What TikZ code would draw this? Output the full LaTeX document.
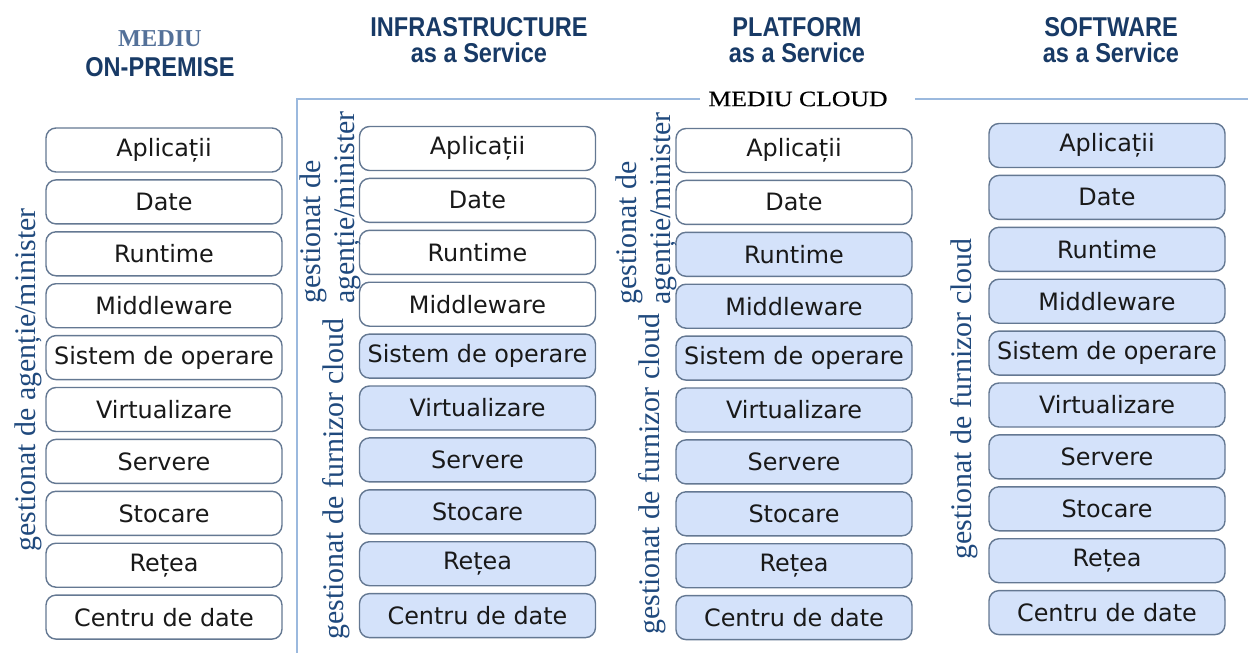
\documentclass[tikz,border=0pt]{standalone}
\usepackage{fontspec}
\setmainfont{Liberation Serif}
\setsansfont{DejaVu Sans}
\newfontfamily\headfont[FakeStretch=0.865]{Liberation Sans}
\newfontfamily\cloudfont[FakeStretch=1.17,FakeBold=0.5]{Liberation Serif}
\usetikzlibrary{positioning}

\definecolor{headblue}{RGB}{24,58,102}
\definecolor{mediublue}{RGB}{84,113,153}
\definecolor{labelblue}{RGB}{31,73,125}
\definecolor{layerdraw}{RGB}{100,120,146}
\definecolor{layerfill}{RGB}{212,226,250}
\definecolor{framecol}{RGB}{155,185,222}

\tikzset{
  layer/.style={rectangle, rounded corners=2mm, draw=layerdraw, line width=0.8pt, minimum width=47.2mm, minimum height=8.8mm, inner sep=0pt, outer sep=0pt, text=black!90, font=\sffamily\fontsize{13.6}{16}\selectfont},
  selfrun/.style={layer, fill=white},
  vendor/.style={layer, fill=layerfill},
  managedby/.style={rotate=90, anchor=west, inner sep=0pt, align=left, text=labelblue, font=\fontsize{17}{19.5}\selectfont},
  header/.style={inner sep=0pt, align=center, text=headblue, font=\headfont\bfseries\fontsize{15.5}{14.7}\selectfont}
}

\begin{document}
\begin{tikzpicture}[x=0.2mm, y=-0.2mm, node distance=1.58mm]
\useasboundingbox (0,0) rectangle (1248,653);

% titluri
\node[header, font=\headfont\bfseries\fontsize{15.5}{17}\selectfont] (prem-head) at (160,53.7) {{\rmfamily\fontsize{13.8}{17}\selectfont\color{mediublue}MEDIU}\\ON-PREMISE};
\node[header] (iaas-head) at (479,40.5) {INFRASTRUCTURE\\as a Service};
\node[header] (paas-head) at (797,40.5) {PLATFORM\\as a Service};
\node[header] (saas-head) at (1111,40.5) {SOFTWARE\\as a Service};

% mediu cloud
\node[inner sep=0pt, font=\cloudfont\fontsize{12.5}{14}\selectfont] (cloud-head) at (798,99) {MEDIU CLOUD};
\coordinate (frame-low) at (297,653);
\coordinate (frame-end) at (1248,99);
\draw[framecol, line width=1.1pt] (frame-low) |- ([xshift=-1.6mm]cloud-head.west);
\draw[framecol, line width=1.1pt] ([xshift=5.4mm]cloud-head.east) -- (frame-end);

% on-premise
\node[selfrun] (prem-app) at (164,150) {Aplicații};
\node[selfrun, below=of prem-app] (prem-date) {Date};
\node[selfrun, below=of prem-date] (prem-run) {Runtime};
\node[selfrun, below=of prem-run] (prem-mid) {Middleware};
\node[selfrun, below=of prem-mid] (prem-os) {Sistem de operare};
\node[selfrun, below=of prem-os] (prem-virt) {Virtualizare};
\node[selfrun, below=of prem-virt] (prem-srv) {Servere};
\node[selfrun, below=of prem-srv] (prem-sto) {Stocare};
\node[selfrun, below=of prem-sto] (prem-net) {Rețea};
\node[selfrun, below=of prem-net] (prem-dc) {Centru de date};
\node[managedby] (prem-own) at (28,552) {gestionat de agenție/minister};

% iaas
\node[selfrun] (iaas-app) at (477.5,148.5) {Aplicații};
\node[selfrun, below=of iaas-app] (iaas-date) {Date};
\node[selfrun, below=of iaas-date] (iaas-run) {Runtime};
\node[selfrun, below=of iaas-run] (iaas-mid) {Middleware};
\node[vendor, below=of iaas-mid] (iaas-os) {Sistem de operare};
\node[vendor, below=of iaas-os] (iaas-virt) {Virtualizare};
\node[vendor, below=of iaas-virt] (iaas-srv) {Servere};
\node[vendor, below=of iaas-srv] (iaas-sto) {Stocare};
\node[vendor, below=of iaas-sto] (iaas-net) {Rețea};
\node[vendor, below=of iaas-net] (iaas-dc) {Centru de date};
\node[managedby] (iaas-own) at (330.5,304) {gestionat de\\agenție/minister};
\node[managedby] (iaas-prov) at (336.5,640) {gestionat de furnizor cloud};

% paas
\node[selfrun] (paas-app) at (794,150.5) {Aplicații};
\node[selfrun, below=of paas-app] (paas-date) {Date};
\node[vendor, below=of paas-date] (paas-run) {Runtime};
\node[vendor, below=of paas-run] (paas-mid) {Middleware};
\node[vendor, below=of paas-mid] (paas-os) {Sistem de operare};
\node[vendor, below=of paas-os] (paas-virt) {Virtualizare};
\node[vendor, below=of paas-virt] (paas-srv) {Servere};
\node[vendor, below=of paas-srv] (paas-sto) {Stocare};
\node[vendor, below=of paas-sto] (paas-net) {Rețea};
\node[vendor, below=of paas-net] (paas-dc) {Centru de date};
\node[managedby] (paas-own) at (646,305) {gestionat de\\agenție/minister};
\node[managedby] (paas-prov) at (652,635) {gestionat de furnizor cloud};

% saas
\node[vendor] (saas-app) at (1107,145.5) {Aplicații};
\node[vendor, below=of saas-app] (saas-date) {Date};
\node[vendor, below=of saas-date] (saas-run) {Runtime};
\node[vendor, below=of saas-run] (saas-mid) {Middleware};
\node[vendor, below=of saas-mid] (saas-os) {Sistem de operare};
\node[vendor, below=of saas-os] (saas-virt) {Virtualizare};
\node[vendor, below=of saas-virt] (saas-srv) {Servere};
\node[vendor, below=of saas-srv] (saas-sto) {Stocare};
\node[vendor, below=of saas-sto] (saas-net) {Rețea};
\node[vendor, below=of saas-net] (saas-dc) {Centru de date};
\node[managedby] (saas-prov) at (964,560) {gestionat de furnizor cloud};
\end{tikzpicture}
\end{document}
